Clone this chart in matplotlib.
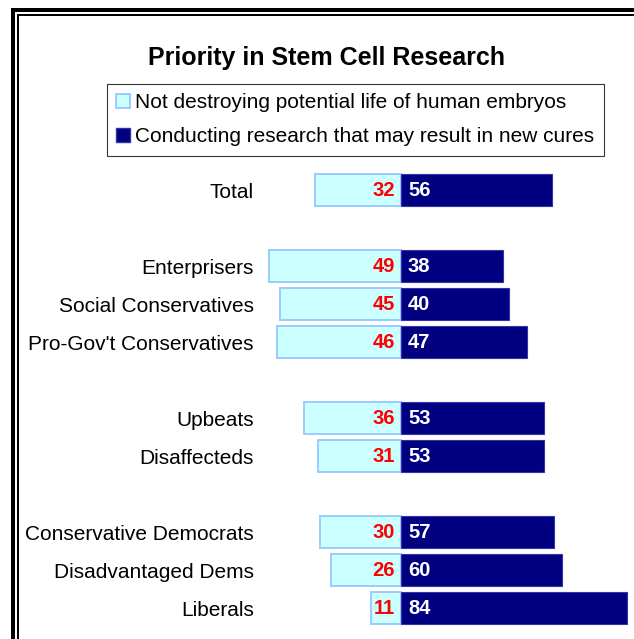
import matplotlib
matplotlib.use("Agg")
import matplotlib.pyplot as plt
from matplotlib.lines import Line2D
from matplotlib.patches import Patch

plt.rcParams['font.family'] = ['Liberation Sans', 'DejaVu Sans']

categories = ["Total", "Enterprisers", "Social Conservatives", "Pro-Gov't Conservatives",
              "Upbeats", "Disaffecteds", "Conservative Democrats", "Disadvantaged Dems", "Liberals"]
rows = [0, 2, 3, 4, 6, 7, 9, 10, 11]
not_destroying = [32, 49, 45, 46, 36, 31, 30, 26, 11]
research = [56, 38, 40, 47, 53, 53, 57, 60, 84]
series_names = ["Not destroying potential life of human embryos",
                "Conducting research that may result in new cures"]
title = "Priority in Stem Cell Research"

W, H = 634, 639
fig = plt.figure(figsize=(W / 100, H / 100), dpi=100)

center_px = 401
ppu = 2.69
row_px = 38
row0_px = 190
ax_left_px = 265
ax = fig.add_axes([ax_left_px / W, 0, (W - ax_left_px) / W, 1])
ax.set_xlim((ax_left_px - center_px) / ppu, (W - center_px) / ppu)
ax.set_ylim((H - row0_px) / row_px, -row0_px / row_px)

light = '#CCFFFF'
light_edge = '#99CCFF'
dark = '#000080'
dark_edge = '#3333AA'

ax.barh(rows, [-v for v in not_destroying], height=0.84, color=light,
        edgecolor=light_edge, linewidth=1.4)
ax.barh(rows, research, height=0.84, color=dark, edgecolor=dark_edge, linewidth=0.8)

for r, a, b in zip(rows, not_destroying, research):
    ax.text(-2.2, r + 0.02, str(a), ha='right', va='center', color='#FF0000',
            fontsize=14.5, fontweight='bold')
    ax.text(2.6, r + 0.02, str(b), ha='left', va='center', color='white',
            fontsize=14.5, fontweight='bold')

ax.set_yticks(rows)
ax.set_yticklabels(categories, fontsize=15)
ax.tick_params(axis='y', length=0, pad=8)
ax.set_xticks([])
for s in ax.spines.values():
    s.set_visible(False)
ax.patch.set_alpha(0)

fig.text(327 / W, 1 - 58 / H, title, ha='center', va='center', fontsize=18,
         fontweight='bold')

handles = [Patch(facecolor=light, edgecolor=light_edge, linewidth=1.4),
           Patch(facecolor=dark, edgecolor=dark_edge)]
leg = fig.legend(handles, series_names, loc='upper left',
                 bbox_to_anchor=(107 / W, 1 - 84 / H), fontsize=15,
                 frameon=True, fancybox=False, handlelength=0.65, handleheight=0.65,
                 handletextpad=0.25, borderpad=0.45, labelspacing=0.72,
                 borderaxespad=0)
leg.get_frame().set_edgecolor('black')
leg.get_frame().set_linewidth(0.8)

# double frame lines at top and left
def px_line(x0, y0, x1, y1, lw_px):
    fig.add_artist(Line2D([x0 / W, x1 / W], [1 - y0 / H, 1 - y1 / H],
                          transform=fig.transFigure, color='black',
                          linewidth=lw_px * 0.72, solid_capstyle='butt'))

px_line(11, 10, W, 10, 4)
px_line(13, 8, 13, H, 4)
px_line(17, 15, W, 15, 2)
px_line(18, 14, 18, H, 2)

fig.savefig("out.png", dpi=100)
